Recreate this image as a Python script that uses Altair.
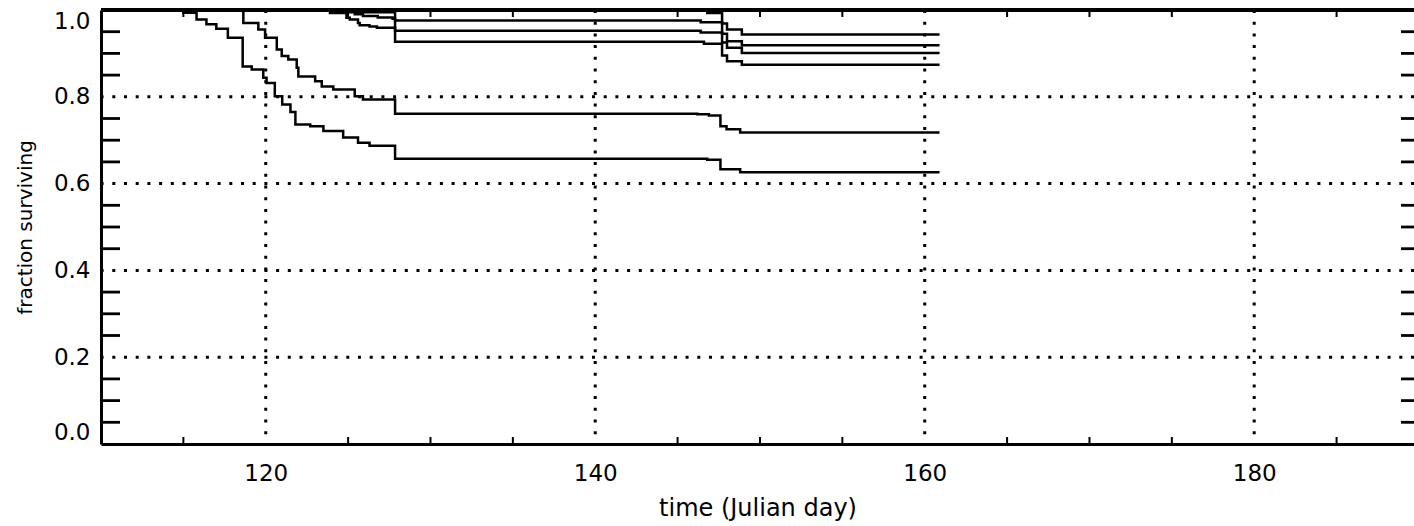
import altair as alt
import pandas as pd

# ---- survival curves (time in Julian day, fraction surviving) ----
t_a = [114.0, 146.8, 147.7, 148.0, 148.9, 160.9]
s_a = [1.0, 0.993, 0.969, 0.955, 0.9435, 0.9435]

t_b = [114.0, 125.0, 127.85, 146.4, 147.7, 148.0, 148.9, 160.9]
s_b = [1.0, 0.995, 0.976, 0.972, 0.945, 0.928, 0.919, 0.919]

t_c = [114.0, 125.4, 125.9, 126.8, 127.7, 127.85, 146.4, 147.7, 148.0, 148.9, 160.9]
s_c = [1.0, 0.990, 0.986, 0.983, 0.980, 0.952, 0.948, 0.925, 0.913, 0.901, 0.901]

t_d = [114.0, 123.9, 124.9, 125.1, 125.6, 125.7, 126.3, 126.75, 127.85, 146.6, 147.7, 148.0, 148.9, 160.9]
s_d = [1.0, 0.993, 0.982, 0.978, 0.970, 0.965, 0.962, 0.959, 0.927, 0.922, 0.895, 0.882, 0.874, 0.874]

t_e = [114.0, 118.64, 119.55, 119.96, 120.67, 120.97, 121.37, 121.88, 121.98, 123.0, 123.4, 124.1,
       125.4, 125.9, 127.85, 146.2, 146.9, 147.6, 147.97, 148.8, 160.9]
s_e = [1.0, 0.970, 0.955, 0.936, 0.909, 0.894, 0.886, 0.867, 0.847, 0.836, 0.824, 0.817,
       0.801, 0.794, 0.761, 0.760, 0.757, 0.732, 0.725, 0.718, 0.718]

t_f = [114.0, 115.0, 115.8, 116.4, 117.0, 117.7, 118.6, 119.15, 119.85, 120.05, 120.55, 121.0,
       121.5, 121.8, 122.7, 123.5, 124.7, 125.6, 126.3, 127.85, 146.8, 147.6, 148.8, 160.9]
s_f = [1.0, 0.9935, 0.978, 0.967, 0.957, 0.936, 0.870, 0.863, 0.844, 0.832, 0.801, 0.782,
       0.765, 0.736, 0.732, 0.721, 0.706, 0.694, 0.687, 0.657, 0.655, 0.633, 0.626, 0.626]

grid_x = [120, 140, 160, 180]
grid_y = [0.2, 0.4, 0.6, 0.8]
minor_x = [115, 125, 130, 135, 145, 150, 155, 165, 170, 175, 185]
minor_y = [0.05, 0.10, 0.15, 0.25, 0.30, 0.35, 0.45, 0.50, 0.55, 0.65, 0.70, 0.75, 0.85, 0.90, 0.95]
x_label_values = [120, 140, 160, 180]
y_label_values = [0.0, 0.2, 0.4, 0.6, 0.8, 1.0]

series = {"A": (t_a, s_a), "B": (t_b, s_b), "C": (t_c, s_c),
          "D": (t_d, s_d), "E": (t_e, s_e), "F": (t_f, s_f)}
rows = []
for name, (ts, ss) in series.items():
    for t, s in zip(ts, ss):
        rows.append({"series": name, "t": t, "s": s})
curves = pd.DataFrame(rows)

W, H = 1313, 434
FONT = "DejaVu Sans"

xscale = alt.Scale(domain=[110, 189.7], nice=False, zero=False)
yscale = alt.Scale(domain=[0, 1], nice=False, zero=False)

xaxis = alt.Axis(values=x_label_values, format="d", title="time (Julian day)",
                 grid=False, ticks=False, domain=True, domainColor="black", domainWidth=3,
                 labelFont=FONT, labelFontSize=23, labelColor="black", labelPadding=18,
                 titleFont=FONT, titleFontSize=24, titleFontWeight="normal",
                 titleColor="black", titlePadding=11)
yaxis = alt.Axis(values=y_label_values, format=".1f", title="fraction surviving",
                 grid=False, ticks=False, domain=True, domainColor="black", domainWidth=3,
                 labelFont=FONT, labelFontSize=23, labelColor="black", labelPadding=11,
                 labelFlush=True,
                 titleFont=FONT, titleFontSize=20, titleFontWeight="normal",
                 titleColor="black", titlePadding=18)

X = lambda f: alt.X(f, scale=xscale, axis=xaxis)
Y = lambda f: alt.Y(f, scale=yscale, axis=yaxis)

lines = alt.Chart(curves).mark_line(
    interpolate="step-after", color="black", strokeWidth=2.5
).encode(x=X("t:Q"), y=Y("s:Q"), detail="series:N")

dots = dict(color="black", strokeWidth=3, strokeDash=[3, 8.7])
gx = alt.Chart(pd.DataFrame({"t": grid_x})).mark_rule(**dots).encode(x=X("t:Q"))
gy = alt.Chart(pd.DataFrame({"s": grid_y})).mark_rule(**dots).encode(y=Y("s:Q"))

my = pd.DataFrame({"s": minor_y})
mx = pd.DataFrame({"t": minor_x})
tick_left = alt.Chart(my).mark_rule(color="black", strokeWidth=2.8).encode(
    y=Y("s:Q"), x=alt.value(0), x2=alt.value(19))
tick_right = alt.Chart(my).mark_rule(color="black", strokeWidth=2.8).encode(
    y=Y("s:Q"), x=alt.value(W - 13), x2=alt.value(W))
tick_bottom = alt.Chart(mx).mark_rule(color="black", strokeWidth=2).encode(
    x=X("t:Q"), y=alt.value(H), y2=alt.value(H - 7))
tick_top = alt.Chart(mx).mark_rule(color="black", strokeWidth=2).encode(
    x=X("t:Q"), y=alt.value(0), y2=alt.value(7))
top_frame = alt.Chart(mx).mark_rule(color="black", strokeWidth=3).encode(
    x=alt.value(0), x2=alt.value(W), y=alt.value(0))

chart = alt.layer(gx, gy, tick_left, tick_right, tick_bottom, tick_top, top_frame, lines).properties(
    width=W, height=H,
    padding={"left": 101, "top": 10, "right": 0, "bottom": 82},
    autosize=alt.AutoSizeParams(type="none"),
    background="white",
).configure_view(stroke=None)

chart.save("out.html", embed_options={"renderer": "svg", "actions": False})
